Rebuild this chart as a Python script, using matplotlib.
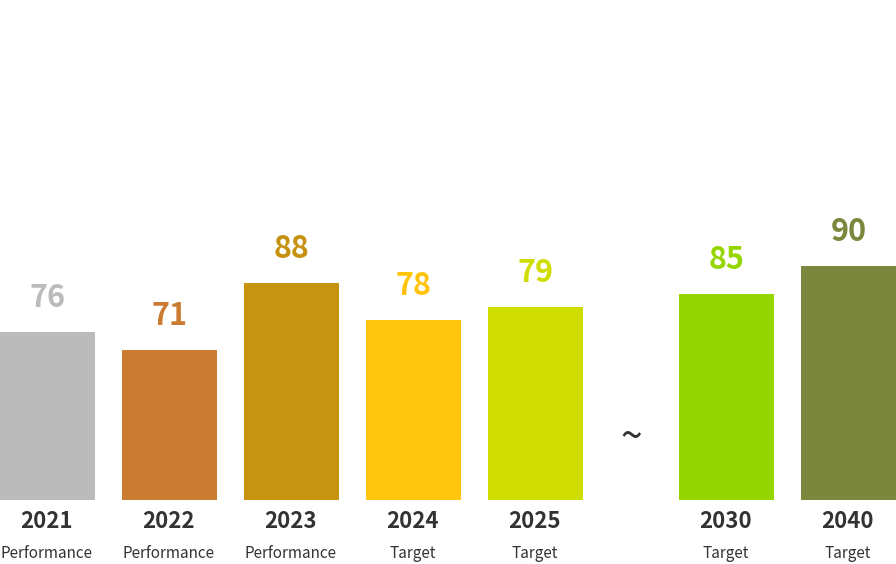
import numpy as np
import matplotlib
matplotlib.use('Agg')
import matplotlib.pyplot as plt

plt.rcParams['font.family'] = ['Noto Sans CJK KR', 'DejaVu Sans']

years = ['2021', '2022', '2023', '2024', '2025', '2030', '2040']
kinds = ['Performance', 'Performance', 'Performance', 'Target', 'Target', 'Target', 'Target']
values = [76, 71, 88, 78, 79, 85, 90]
# bar lengths as drawn (not proportional to the labels in the original)
bar_len = [168, 150, 217, 180, 193, 206, 234]
colors = ['#bbbbbb', '#c97c32', '#c79411', '#ffc50f', '#cfdd00', '#95d500', '#7b873c']
label_colors = ['#bbbbbb', '#c97c32', '#c69110', '#ffc30a', '#cfdd00', '#95d500', '#7b873c']

# positions: a gap after 2025
x = np.arange(len(years), dtype=float)
gap = 69 / 122
x[5:] += gap

fig = plt.figure(figsize=(8.96, 5.64), dpi=100)
ax = fig.add_axes([0, 0, 1, 1])
ax.bar(x, bar_len, width=95 / 122, color=colors)

for xi, h, v, c, yr, k in zip(x, bar_len, values, label_colors, years, kinds):
    ax.annotate(str(v), xy=(xi, h), xytext=(0, 25), textcoords='offset pixels',
                ha='center', va='baseline', fontsize=22, fontweight='heavy', color=c)
    ax.annotate(yr, xy=(xi, 0), xytext=(-1, -28), textcoords='offset pixels',
                ha='center', va='baseline', fontsize=16, fontweight='bold', color='#333333')
    ax.annotate(k, xy=(xi, 0), xytext=(-1, -58), textcoords='offset pixels',
                ha='center', va='baseline', fontsize=11, color='#333333')

ax.text((x[4] + x[5]) / 2, 62, '~', ha='center', va='center', fontsize=28, color='#333333')

ax.set_xlim(x[0] - 47.5 / 122, x[0] - 47.5 / 122 + 896 / 122)
ax.set_ylim(-64, 500)
ax.axis('off')

fig.savefig('out.png', dpi=100)
